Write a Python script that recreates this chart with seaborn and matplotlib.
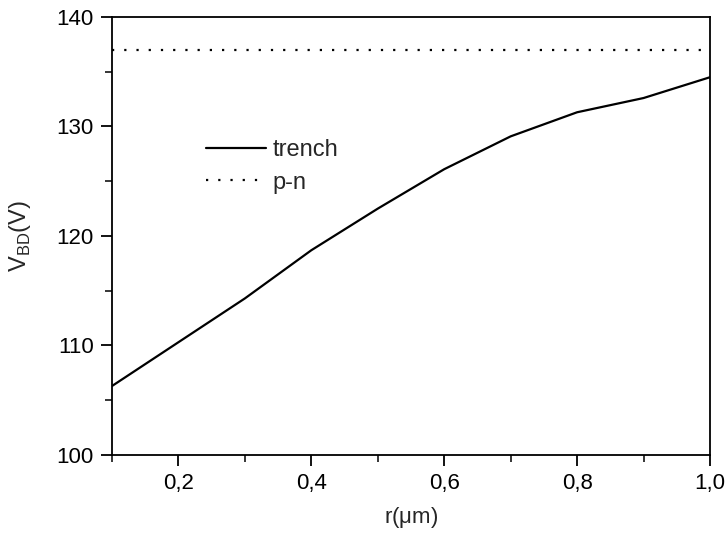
import matplotlib
matplotlib.use("Agg")
import matplotlib.pyplot as plt
import seaborn as sns
import pandas as pd
from matplotlib.ticker import MultipleLocator, FuncFormatter

r_um = [0.1, 0.2, 0.3, 0.4, 0.5, 0.6, 0.7, 0.8, 0.9, 1.0]
trench = [106.3, 110.3, 114.3, 118.7, 122.5, 126.1, 129.1, 131.3, 132.6, 134.5]
pn = [137.0] * len(r_um)

sns.set_style("ticks")
plt.rcParams['font.family'] = ['Liberation Sans', 'DejaVu Sans']
plt.rcParams['mathtext.fontset'] = 'custom'
plt.rcParams['mathtext.rm'] = 'Liberation Sans'

df = pd.DataFrame({"r": r_um * 2, "V": trench + pn,
                   "series": ["trench"] * len(r_um) + ["p-n"] * len(r_um)})

fig = plt.figure(figsize=(7.28, 5.37), dpi=100)
ax = fig.add_axes([112/728, 82/537, (710-112)/728, (455-17)/537])

sns.lineplot(data=df, x="r", y="V", hue="series", style="series",
             palette={"trench": "black", "p-n": "black"},
             dashes={"trench": "", "p-n": (1, 4.5)},
             linewidth=1.6, ax=ax, legend=True)

ax.set_xlim(0.1, 1.0)
ax.set_ylim(100, 140)
ax.xaxis.set_major_locator(MultipleLocator(0.2))
ax.xaxis.set_minor_locator(MultipleLocator(0.1))
ax.yaxis.set_major_locator(MultipleLocator(10))
ax.yaxis.set_minor_locator(MultipleLocator(5))
ax.xaxis.set_major_formatter(FuncFormatter(lambda v, p: f"{v:.1f}".replace(".", ",")))
ax.yaxis.set_major_formatter(FuncFormatter(lambda v, p: f"{v:.0f}"))
ax.tick_params(axis="both", which="major", direction="out", length=8, width=1.3,
               labelsize=16, colors="black", pad=5)
ax.tick_params(axis="both", which="minor", direction="out", length=5, width=1.3)
for s in ax.spines.values():
    s.set_visible(True)
    s.set_linewidth(1.3)
    s.set_color("black")

ax.set_xlabel(r"r($\mathregular{\mu}$m)", fontsize=16)
ax.set_ylabel(r"V$_{\mathregular{BD}}$(V)", fontsize=17)
ax.xaxis.set_label_coords(0.5, -0.115)
ax.yaxis.set_label_coords(-0.132, 0.5)

leg = ax.legend(loc="center left", bbox_to_anchor=(0.122, 0.659), frameon=False,
                fontsize=17, handlelength=2.55, handletextpad=0.25, labelspacing=0.45)

fig.savefig("out.png", dpi=100)
